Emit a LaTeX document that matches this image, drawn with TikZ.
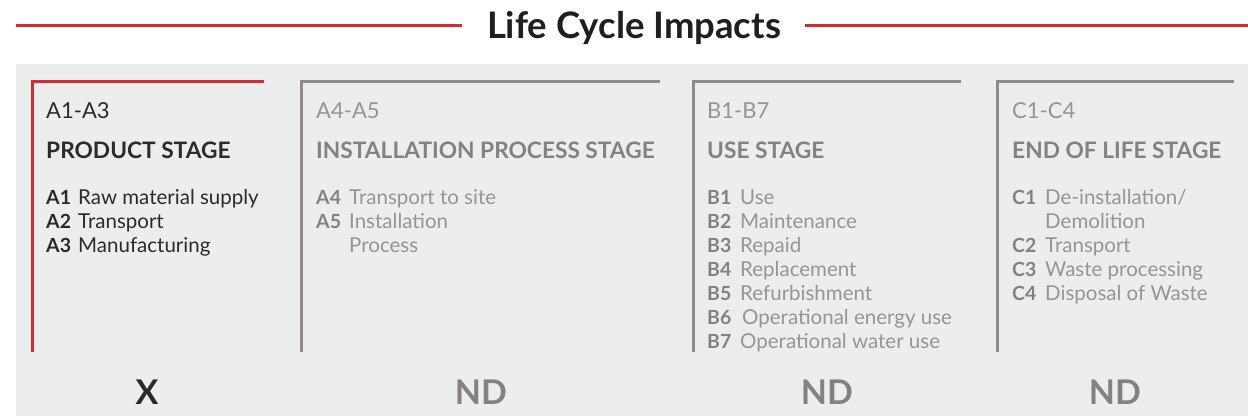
\documentclass[tikz,border=0pt]{standalone}
\usepackage{fontspec}
\setmainfont{Lato}
\definecolor{lcared}{HTML}{D42A35}
\definecolor{lcabg}{HTML}{ECEDED}
\definecolor{lcaline}{HTML}{8C8C8C}
\definecolor{lcadark}{HTML}{2B2B2B}
\definecolor{lcagrey}{HTML}{959595}
\definecolor{lcamid}{HTML}{828282}
\tikzset{
  rangelbl/.style={anchor=base west, inner sep=0pt, font=\fontsize{22}{26}\selectfont},
  stagelbl/.style={anchor=base west, inner sep=0pt, font=\bfseries\fontsize{22.7}{26}\selectfont},
  codelbl/.style={anchor=base west, inner sep=0pt, font=\bfseries\fontsize{19.5}{24}\selectfont},
  itemlbl/.style={anchor=base west, inner sep=0pt, font=\fontsize{20.5}{24}\selectfont},
  marklbl/.style={anchor=base, inner sep=0pt, font=\bfseries\fontsize{34}{40}\selectfont},
}
\begin{document}
\begin{tikzpicture}[x=1pt, y=-1pt]
    \useasboundingbox (0,0) rectangle (1248,416);
    \fill[lcabg] (16,64) rectangle (1248,416);

    % title with red rules
    \node[anchor=base, inner sep=0pt, font=\bfseries\fontsize{36.5}{40}\selectfont, text=black!88] (title) at (634,38) {Life Cycle Impacts};
    \coordinate (rl) at (16,25);
    \coordinate (rr) at (1248,25);
    \draw[lcared, line width=3pt] (rl) -- ([xshift=-25pt]title.west |- rl);
    \draw[lcared, line width=3pt] ([xshift=24pt]title.east |- rr) -- (rr);

    % brackets
    \coordinate (p1b) at (32,352);
    \coordinate (p1t) at (32,81);
    \coordinate (p1e) at (264,81);
    \draw[lcared, line width=3pt] (p1b) -- (p1t) -- (p1e);

    \coordinate (p2b) at (301,352);
    \coordinate (p2t) at (301,81);
    \coordinate (p2e) at (660,81);
    \draw[lcaline, line width=3pt] (p2b) -- (p2t) -- (p2e);

    \coordinate (p3b) at (693,352);
    \coordinate (p3t) at (693,81);
    \coordinate (p3e) at (961,81);
    \draw[lcaline, line width=3pt] (p3b) -- (p3t) -- (p3e);

    \coordinate (p4b) at (997,352);
    \coordinate (p4t) at (997,81);
    \coordinate (p4e) at (1234,81);
    \draw[lcaline, line width=3pt] (p4b) -- (p4t) -- (p4e);

    % product stage
    \node[rangelbl, text=lcadark] (r1) at (46,118) {A1-A3};
    \node[stagelbl, text=lcadark] (s1) at (46,158) {PRODUCT STAGE};
    \node[codelbl, text=lcadark] (a1) at (46,204) {A1};
    \node[itemlbl, text=lcadark] (a1t) at (78,204) {Raw material supply};
    \node[codelbl, text=lcadark] (a2) at (46,228) {A2};
    \node[itemlbl, text=lcadark] (a2t) at (78,228) {Transport};
    \node[codelbl, text=lcadark] (a3) at (46,252) {A3};
    \node[itemlbl, text=lcadark] (a3t) at (78,252) {Manufacturing};
    \node[marklbl, text=lcadark] (m1) at (147,404) {X};

    % installation process stage
    \node[rangelbl, text=lcagrey] (r2) at (316,118) {A4-A5};
    \node[stagelbl, text=lcamid] (s2) at (316,158) {INSTALLATION PROCESS STAGE};
    \node[codelbl, text=lcamid] (a4) at (316,204) {A4};
    \node[itemlbl, text=lcagrey] (a4t) at (349,204) {Transport to site};
    \node[codelbl, text=lcamid] (a5) at (316,228) {A5};
    \node[itemlbl, text=lcagrey] (a5t) at (349,228) {Installation};
    \node[itemlbl, text=lcagrey] (a5u) at (349,252) {Process};
    \node[marklbl, text=lcamid] (m2) at (481,404) {ND};

    % use stage
    \node[rangelbl, text=lcagrey] (r3) at (707,118) {B1-B7};
    \node[stagelbl, text=lcamid] (s3) at (707,158) {USE STAGE};
    \node[codelbl, text=lcamid] (b1) at (707,204) {B1};
    \node[itemlbl, text=lcagrey] (b1t) at (740,204) {Use};
    \node[codelbl, text=lcamid] (b2) at (707,228) {B2};
    \node[itemlbl, text=lcagrey] (b2t) at (740,228) {Maintenance};
    \node[codelbl, text=lcamid] (b3) at (707,252) {B3};
    \node[itemlbl, text=lcagrey] (b3t) at (740,252) {Repaid};
    \node[codelbl, text=lcamid] (b4) at (707,276) {B4};
    \node[itemlbl, text=lcagrey] (b4t) at (740,276) {Replacement};
    \node[codelbl, text=lcamid] (b5) at (707,300) {B5};
    \node[itemlbl, text=lcagrey] (b5t) at (740,300) {Refurbishment};
    \node[codelbl, text=lcamid] (b6) at (707,324) {B6};
    \node[itemlbl, text=lcagrey] (b6t) at (742,324) {Operational energy use};
    \node[codelbl, text=lcamid] (b7) at (707,348) {B7};
    \node[itemlbl, text=lcagrey] (b7t) at (740,348) {Operational water use};
    \node[marklbl, text=lcamid] (m3) at (827,404) {ND};

    % end of life stage
    \node[rangelbl, text=lcagrey] (r4) at (1012,118) {C1-C4};
    \node[stagelbl, text=lcamid] (s4) at (1012,158) {END OF LIFE STAGE};
    \node[codelbl, text=lcamid] (c1) at (1012,204) {C1};
    \node[itemlbl, text=lcagrey] (c1t) at (1045,204) {De-installation/};
    \node[itemlbl, text=lcagrey] (c1u) at (1045,228) {Demolition};
    \node[codelbl, text=lcamid] (c2) at (1012,252) {C2};
    \node[itemlbl, text=lcagrey] (c2t) at (1045,252) {Transport};
    \node[codelbl, text=lcamid] (c3) at (1012,276) {C3};
    \node[itemlbl, text=lcagrey] (c3t) at (1045,276) {Waste processing};
    \node[codelbl, text=lcamid] (c4) at (1012,300) {C4};
    \node[itemlbl, text=lcagrey] (c4t) at (1045,300) {Disposal of Waste};
    \node[marklbl, text=lcamid] (m4) at (1115,404) {ND};
\end{tikzpicture}
\end{document}
